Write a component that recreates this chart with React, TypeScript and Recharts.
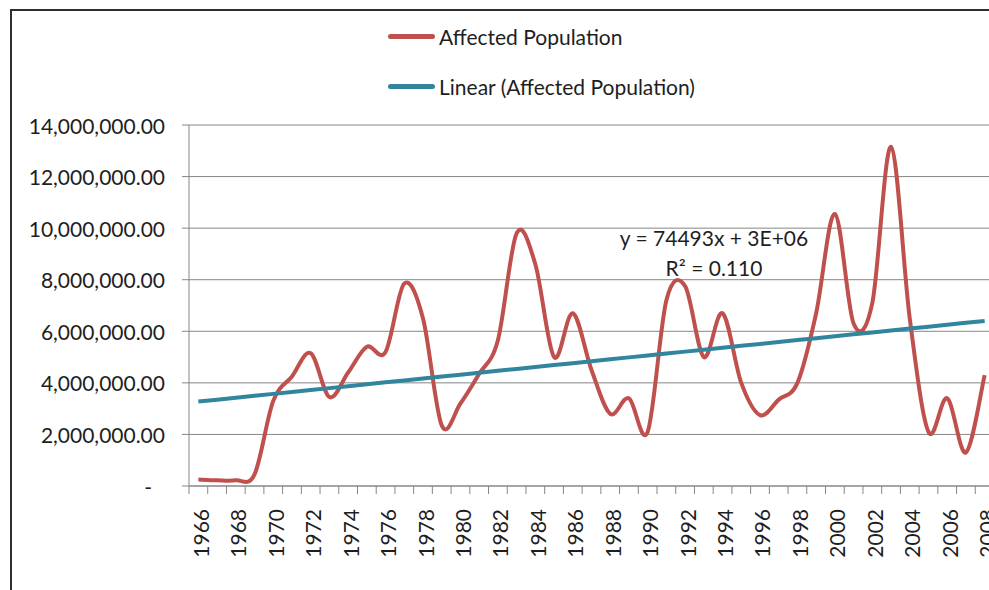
import React from 'react';
import { LineChart, Line, XAxis, YAxis, CartesianGrid } from 'recharts';

const years = [
  '1966', '1967', '1968', '1969', '1970', '1971', '1972', '1973', '1974', '1975',
  '1976', '1977', '1978', '1979', '1980', '1981', '1982', '1983', '1984', '1985',
  '1986', '1987', '1988', '1989', '1990', '1991', '1992', '1993', '1994', '1995',
  '1996', '1997', '1998', '1999', '2000', '2001', '2002', '2003', '2004', '2005',
  '2006', '2007', '2008',
];

const affectedPopulation = [
  250000, 220000, 220000, 450000, 3300000, 4250000, 5150000, 3450000, 4400000, 5400000,
  5200000, 7850000, 6500000, 2350000, 3200000, 4350000, 5650000, 9800000, 8600000, 5000000,
  6700000, 4500000, 2800000, 3400000, 2100000, 7200000, 7750000, 5000000, 6700000, 4000000,
  2750000, 3350000, 4000000, 6700000, 10550000, 6300000, 7100000, 13150000, 6500000, 2100000,
  3400000, 1300000, 4300000,
];

// Linear trendline y = slope * x + intercept (x = 1..n), as shown on the chart
const trendSlope = 74493;
const trendIntercept = 3200000;

const yTicks = [0, 2000000, 4000000, 6000000, 8000000, 10000000, 12000000, 14000000];
const seriesNames = ['Affected Population', 'Linear (Affected Population)'];
const equationLines = ['y = 74493x + 3E+06', 'R\u00B2 = 0.110'];

const RED = '#C0504D';
const TEAL = '#31859C';
const GRID = '#868686';
const TEXT = '#1e1e1e';
const FONT = 'Lato, "Open Sans", "DejaVu Sans", sans-serif';

const data = years.map((year, i) => ({
  year,
  affected: affectedPopulation[i],
  trend: trendIntercept + trendSlope * (i + 1),
}));

const CHART_W = 1010;
const CHART_H = 600;
const MARGIN = { top: 125, right: 16, bottom: 0, left: 0 };
const Y_AXIS_W = 189;
const X_AXIS_H = CHART_H - 486;
const BAND = (CHART_W - MARGIN.left - MARGIN.right - Y_AXIS_W) / years.length;

// Excel-style smoothed line (Catmull-Rom through each point)
const excelSmooth = (context: any) => {
  let pts: number[][] = [];
  return {
    areaStart() {},
    areaEnd() {},
    lineStart() {
      pts = [];
    },
    point(x: number, y: number) {
      pts.push([+x, +y]);
    },
    lineEnd() {
      const n = pts.length;
      if (!n) return;
      context.moveTo(pts[0][0], pts[0][1]);
      for (let i = 0; i < n - 1; i++) {
        const p0 = pts[Math.max(0, i - 1)];
        const p1 = pts[i];
        const p2 = pts[i + 1];
        const p3 = pts[Math.min(n - 1, i + 2)];
        context.bezierCurveTo(
          p1[0] + (p2[0] - p0[0]) / 6,
          p1[1] + (p2[1] - p0[1]) / 6,
          p2[0] - (p3[0] - p1[0]) / 6,
          p2[1] - (p3[1] - p1[1]) / 6,
          p2[0],
          p2[1]
        );
      }
    },
  };
};

const fmtY = (v: number) =>
  v === 0
    ? '-'
    : v.toLocaleString('en-US', { minimumFractionDigits: 2, maximumFractionDigits: 2 });

const YTick = (props: any) => {
  const { x, y, payload } = props;
  const v = payload.value;
  return (
    <text
      x={v === 0 ? x - 13 : x}
      y={y}
      textAnchor="end"
      dominantBaseline="central"
      fontFamily={FONT}
      fontSize={21}
      fill={TEXT}
    >
      {fmtY(v)}
    </text>
  );
};

const XTick = (props: any) => {
  const { x, y, payload, index } = props;
  const showLabel = index % 2 === 0;
  const bx = x - BAND / 2;
  return (
    <g>
      <line x1={bx} x2={bx} y1={y} y2={y + 8} stroke={GRID} strokeWidth={1} />
      {showLabel && (
        <text
          transform={`translate(${x + 2}, ${y + 23}) rotate(-90)`}
          textAnchor="end"
          dominantBaseline="central"
          fontFamily={FONT}
          fontSize={21}
          fill={TEXT}
        >
          {payload.value}
        </text>
      )}
    </g>
  );
};

const legendColors = [RED, TEAL];

export default function App() {
  return (
    <div
      style={{
        position: 'fixed',
        left: 0,
        top: 0,
        width: 989,
        height: 590,
        overflow: 'hidden',
        background: '#ffffff',
        fontFamily: FONT,
      }}
    >
      <div
        style={{
          position: 'absolute',
          left: 10,
          top: 9,
          width: 1200,
          height: 800,
          borderLeft: '2px solid #2e2e2e',
          borderTop: '2px solid #2e2e2e',
        }}
      />
      <div style={{ position: 'absolute', left: 0, top: 0 }}>
        <LineChart width={CHART_W} height={CHART_H} data={data} margin={MARGIN}>
          <CartesianGrid horizontal vertical={false} stroke={GRID} strokeWidth={1} />
          <XAxis
            dataKey="year"
            scale="band"
            interval={0}
            height={X_AXIS_H}
            tickLine={false}
            tickSize={0}
            tickMargin={0}
            axisLine={{ stroke: GRID, strokeWidth: 1 }}
            tick={<XTick />}
          />
          <YAxis
            width={Y_AXIS_W}
            domain={[0, 14000000]}
            ticks={yTicks}
            interval={0}
            tickSize={7}
            tickMargin={17}
            tickLine={{ stroke: GRID, strokeWidth: 1 }}
            axisLine={{ stroke: GRID, strokeWidth: 1 }}
            tick={<YTick />}
          />
          <Line
            dataKey="affected"
            name={seriesNames[0]}
            type={excelSmooth as any}
            stroke={RED}
            strokeWidth={4}
            dot={false}
            activeDot={false}
            isAnimationActive={false}
          />
          <Line
            dataKey="trend"
            name={seriesNames[1]}
            type="linear"
            stroke={TEAL}
            strokeWidth={4}
            dot={false}
            activeDot={false}
            isAnimationActive={false}
          />
        </LineChart>
      </div>
      {seriesNames.map((name, i) => (
        <div
          key={name}
          style={{
            position: 'absolute',
            left: 388,
            top: 22 + i * 50,
            height: 28,
            display: 'flex',
            alignItems: 'center',
            whiteSpace: 'nowrap',
          }}
        >
          <div
            style={{
              width: 47,
              height: 5,
              borderRadius: 3,
              background: legendColors[i],
              marginRight: 4,
            }}
          />
          <span style={{ fontSize: 21, color: TEXT }}>{name}</span>
        </div>
      ))}
      {equationLines.map((line, i) => (
        <div
          key={line}
          style={{
            position: 'absolute',
            left: 614,
            width: 200,
            top: 224 + i * 30,
            height: 28,
            lineHeight: '28px',
            textAlign: 'center',
            fontSize: 21,
            color: TEXT,
            whiteSpace: 'nowrap',
          }}
        >
          {line}
        </div>
      ))}
    </div>
  );
}
